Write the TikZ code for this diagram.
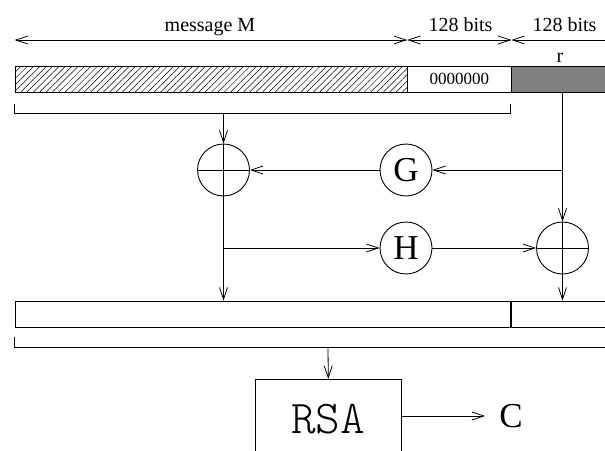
\documentclass[tikz,border=0pt]{standalone}
\usepackage{fontspec}
\setmainfont{Liberation Serif}
\newfontfamily\rsafont{Latin Modern Mono Light}
\usetikzlibrary{arrows.meta, patterns.meta}

\begin{document}
\begin{tikzpicture}[
  x=1pt, y=-1pt,
  field/.style={
    draw, line width=0.8pt, anchor=north west, inner sep=0pt,
    minimum height=26pt, font=\fontsize{17}{20}\selectfont
  },
  xorc/.style={
    draw, circle, line width=0.9pt, minimum size=52pt, inner sep=0pt,
    path picture={\draw[line width=0.9pt]
      (path picture bounding box.north) -- (path picture bounding box.south)
      (path picture bounding box.west) -- (path picture bounding box.east);}
  },
  fn/.style={
    draw, circle, line width=0.9pt, minimum size=52pt, inner sep=0pt,
    font=\fontsize{35}{40}\selectfont
  },
  lbl/.style={font=\fontsize{20}{24}\selectfont, inner sep=0pt},
  arr/.style={-{Straight Barb[length=12pt, width=8pt]}, line width=0.8pt},
  dim/.style={{Straight Barb[length=12pt, width=8pt]}-{Straight Barb[length=12pt, width=8pt]}, line width=0.8pt}
]
  \useasboundingbox (0,0) rectangle (605,450);
  \clip (0,0) rectangle (605,450);

  \node[field, pattern={Lines[angle=45, distance=4.5pt, line width=0.5pt]},
    minimum width=392pt] (msg) at (14.7,66) {};
  \node[field, minimum width=103.3pt] (zer) at (msg.north east) {0000000};
  \node[field, fill=gray, minimum width=120pt] (rnd) at (zer.north east) {};

  \coordinate (d0) at (14.7,40);
  \coordinate (d1) at (msg.north east |- d0);
  \coordinate (d2) at (zer.north east |- d0);
  \coordinate (d3) at (625,40);
  \draw[dim] (d0) -- (d1);
  \draw[dim] (d1) -- (d2);
  \draw[dim] (d2) -- (d3);
  \node[lbl, anchor=base] (lm) at (210,31) {message M};
  \node[lbl, anchor=base] (lz) at (460.5,31) {128 bits};
  \node[lbl, anchor=base] (lr) at (564.5,31) {128 bits};
  \node[lbl, anchor=base] (rl) at (560,62) {r};

  \draw[line width=0.8pt] (14.7,104) -- (14.7,113) -- (510,113) -- (510,104);
  \coordinate (b1) at (223.5,113);

  \node[xorc] (xl) at (223.5,170) {};
  \node[fn] (g) at (406,170) {G};
  \node[fn] (h) at (406,248) {H};
  \node[xorc] (xr) at (562.5,248) {};

  \node[field, minimum width=495.3pt] (pa) at (14.7,300.7) {};
  \node[field, minimum width=120pt] (pb) at (pa.north east) {};

  \draw[line width=0.8pt] (14.7,337) -- (14.7,347) -- (625,347);
  \coordinate (b2) at (328,347);

  \node[draw, line width=0.9pt, anchor=north west, minimum width=145.7pt,
    minimum height=80pt, inner sep=0pt,
    font=\rsafont\fontsize{47}{52}\selectfont] (rsa) at (255,379) {RSA};
  \node[font=\fontsize{35}{40}\selectfont, inner sep=0pt] (c) at (511,416) {C};

  \draw[arr] (rnd.south -| xr) -- (xr.north);
  \coordinate (gs) at (xr |- g);
  \draw[arr] (gs) -- (g.east);
  \draw[arr] (g.west) -- (xl.east);
  \draw[arr] (b1) -- (xl.north);
  \draw[arr] (xl.south) -- (xl |- pa.north);
  \draw[arr] (xl |- h) -- (h.west);
  \draw[arr] (h.east) -- (xr.west);
  \draw[arr] (xr.south) -- (xr |- pb.north);
  \draw[arr] (b2) -- (rsa.north);
  \draw[arr] (rsa.east |- c) -- ([xshift=-14pt]c.west);
\end{tikzpicture}
\end{document}
